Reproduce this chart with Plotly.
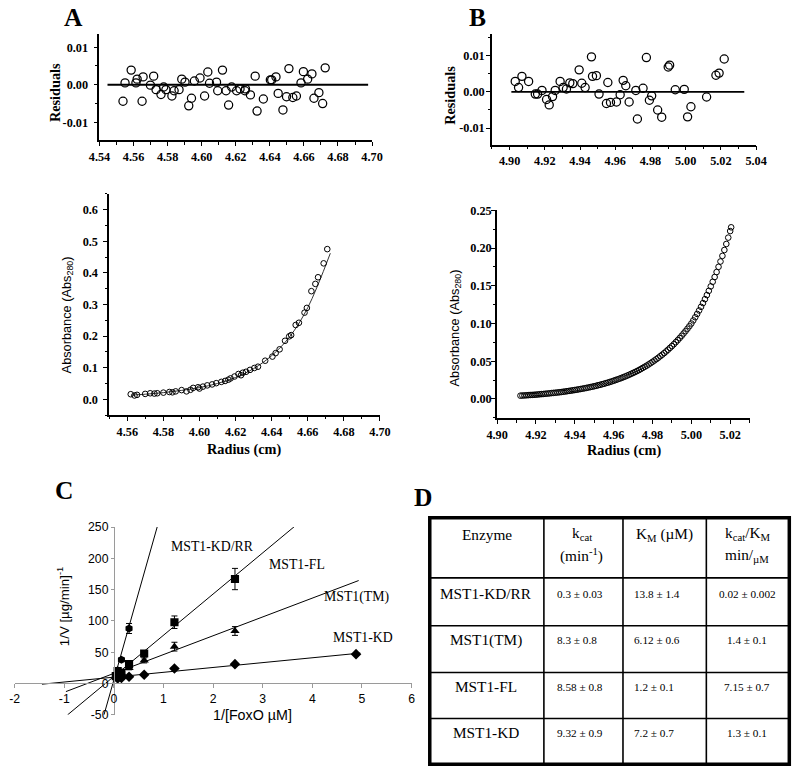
import plotly.graph_objects as go

# Figure fills the window (body margin removed by post_script).  The returned
# photograph shows the page as  8 + 0.98 * page_px, so reference pixel targets
# are mapped back through that relation.
W, H = 800, 770
PAD = 8
SX, SY = 784 / 800, 754 / 770
def fx(p): return ((p - PAD) / SX) / W
def fy(p): return 1 - ((p - PAD) / SY) / H
def fs(s): return round(s / SX, 2)

SERIF = "Liberation Serif, 'Times New Roman', serif"
SANS = "Liberation Sans, Arial, sans-serif"

# ---------------- Panel A data ----------------
a_res_r = [4.5538, 4.5550, 4.5586, 4.5614, 4.5621, 4.5650, 4.5656, 4.5699, 4.5718, 4.5732,
           4.5761, 4.5777, 4.5790, 4.5825, 4.5838, 4.5867, 4.5883, 4.5902, 4.5924, 4.5940,
           4.5957, 4.5990, 4.6017, 4.6036, 4.6046, 4.6087, 4.6094, 4.6122, 4.6143, 4.6158,
           4.6176, 4.6205, 4.6225, 4.6254, 4.6257, 4.6286, 4.6314, 4.6325, 4.6362, 4.6403,
           4.6411, 4.6436, 4.6449, 4.6477, 4.6498, 4.6512, 4.6535, 4.6556, 4.6583, 4.6597,
           4.6622, 4.6647, 4.6659, 4.6688, 4.6710, 4.6725]
a_res_v = [-0.0044, 0.0005, 0.0039, 0.0005, 0.0015, -0.0044, 0.0021, -0.0001, 0.0023, -0.0013,
           -0.0026, -0.0006, -0.0013, -0.0030, -0.0016, -0.0013, 0.0015, 0.0007, -0.0056, -0.0036,
           0.0010, 0.0018, -0.0030, 0.0034, 0.0004, 0.0007, -0.0016, 0.0039, -0.0016, -0.0054,
           -0.0006, -0.0016, -0.0011, -0.0016, -0.0011, -0.0027, 0.0023, -0.0070, -0.0038, 0.0013,
           0.0013, 0.0021, -0.0023, -0.0067, -0.0032, 0.0043, -0.0034, -0.0030, 0.0005, 0.0035,
           0.0015, 0.0029, -0.0036, -0.0021, -0.0050, 0.0045]
a_zero_r = [4.5447, 4.6977]
a_zero_v = [0.0, 0.0]

a_abs_r = [4.5619, 4.5640, 4.5654, 4.5699, 4.5727, 4.5750, 4.5766, 4.5800, 4.5833, 4.5850,
           4.5868, 4.5901, 4.5928, 4.5950, 4.5965, 4.5992, 4.6000, 4.6019, 4.6043, 4.6070,
           4.6093, 4.6121, 4.6142, 4.6160, 4.6172, 4.6194, 4.6216, 4.6230, 4.6240, 4.6258,
           4.6280, 4.6304, 4.6324, 4.6364, 4.6404, 4.6422, 4.6444, 4.6474, 4.6497, 4.6508,
           4.6533, 4.6551, 4.6582, 4.6595, 4.6620, 4.6642, 4.6657, 4.6688, 4.6708]
a_abs_v = [0.016, 0.012, 0.014, 0.017, 0.019, 0.018, 0.019, 0.021, 0.023, 0.022,
           0.025, 0.029, 0.025, 0.030, 0.036, 0.038, 0.034, 0.040, 0.044, 0.047,
           0.051, 0.055, 0.058, 0.062, 0.066, 0.072, 0.080, 0.076, 0.084, 0.087,
           0.093, 0.099, 0.103, 0.122, 0.135, 0.146, 0.158, 0.185, 0.199, 0.203,
           0.235, 0.242, 0.274, 0.289, 0.342, 0.365, 0.386, 0.430, 0.475]
a_fit_r = [4.562, 4.570, 4.580, 4.590, 4.600, 4.610, 4.620, 4.630, 4.640, 4.650, 4.660, 4.6725]
a_fit_v = [0.013, 0.016, 0.021, 0.028, 0.037, 0.050, 0.069, 0.097, 0.138, 0.198, 0.290, 0.462]

# ---------------- Panel B data ----------------
b_res_r = [4.9032, 4.9051, 4.9070, 4.9108, 4.9146, 4.9159, 4.9184, 4.9210, 4.9225, 4.9244,
           4.9259, 4.9287, 4.9304, 4.9323, 4.9342, 4.9359, 4.9395, 4.9410, 4.9429, 4.9465,
           4.9471, 4.9493, 4.9508, 4.9550, 4.9558, 4.9573, 4.9607, 4.9628, 4.9645, 4.9660,
           4.9679, 4.9717, 4.9726, 4.9758, 4.9777, 4.9794, 4.9807, 4.9841, 4.9864, 4.9901,
           4.9909, 4.9941, 4.9992, 5.0011, 5.0030, 5.0119, 5.0172, 5.0190, 5.0219]
b_res_v = [0.0029, 0.0012, 0.0043, 0.0029, -0.0006, -0.0006, 0.0004, -0.0021, -0.0036, -0.0013,
           0.0004, 0.0029, 0.0012, 0.0008, 0.0025, 0.0023, 0.0061, 0.0024, 0.0012, 0.0097,
           0.0043, 0.0045, -0.0006, -0.0032, 0.0026, -0.0029, -0.0028, -0.0008, 0.0032, 0.0017,
           -0.0028, 0.0004, -0.0075, 0.0010, 0.0095, -0.0023, -0.0011, -0.0050, -0.0070, 0.0069,
           0.0074, 0.0006, 0.0007, -0.0069, -0.0041, -0.0014, 0.0046, 0.0052, 0.0091]
b_zero_r = [4.901, 5.0333]
b_zero_v = [0.0, 0.0]

b_abs_r = [4.912, 4.913, 4.914, 4.915, 4.916, 4.917, 4.918, 4.919, 4.920, 4.921,
           4.922, 4.923, 4.924, 4.925, 4.926, 4.927, 4.928, 4.929, 4.930, 4.931,
           4.932, 4.933, 4.934, 4.935, 4.936, 4.937, 4.938, 4.939, 4.940, 4.941,
           4.942, 4.943, 4.944, 4.945, 4.946, 4.947, 4.948, 4.949, 4.950, 4.951,
           4.952, 4.953, 4.954, 4.955, 4.956, 4.957, 4.958, 4.959, 4.960, 4.961,
           4.962, 4.963, 4.964, 4.965, 4.966, 4.967, 4.968, 4.969, 4.970, 4.971,
           4.972, 4.973, 4.974, 4.975, 4.976, 4.977, 4.978, 4.979, 4.980, 4.981,
           4.982, 4.983, 4.984, 4.985, 4.986, 4.987, 4.988, 4.989, 4.990, 4.991,
           4.992, 4.993, 4.994, 4.995, 4.996, 4.997, 4.998, 4.999, 5.000, 5.001,
           5.002, 5.003, 5.004, 5.005, 5.006, 5.007, 5.008, 5.009, 5.010, 5.011,
           5.012, 5.013, 5.014, 5.015, 5.016, 5.017, 5.018, 5.019, 5.020, 5.0205]
b_abs_v = [0.0044, 0.0046, 0.0047, 0.0049, 0.0051, 0.0053, 0.0054, 0.0056, 0.0058, 0.0060,
           0.0063, 0.0065, 0.0067, 0.0070, 0.0072, 0.0075, 0.0078, 0.0081, 0.0083, 0.0086,
           0.0089, 0.0092, 0.0096, 0.0099, 0.0103, 0.0107, 0.0111, 0.0115, 0.0119, 0.0123,
           0.0128, 0.0132, 0.0137, 0.0142, 0.0147, 0.0152, 0.0158, 0.0163, 0.0169, 0.0175,
           0.0182, 0.0188, 0.0195, 0.0202, 0.0210, 0.0217, 0.0225, 0.0233, 0.0242, 0.0251,
           0.0260, 0.0269, 0.0279, 0.0289, 0.0299, 0.0310, 0.0321, 0.0333, 0.0345, 0.0357,
           0.0370, 0.0383, 0.0397, 0.0412, 0.0427, 0.0442, 0.0458, 0.0475, 0.0492, 0.0510,
           0.0528, 0.0547, 0.0567, 0.0587, 0.0608, 0.0630, 0.0653, 0.0677, 0.0701, 0.0726,
           0.0753, 0.0780, 0.0808, 0.0837, 0.0868, 0.0899, 0.0931, 0.0965, 0.1000, 0.1041,
           0.1083, 0.1127, 0.1173, 0.1221, 0.1271, 0.1323, 0.1377, 0.1433, 0.1492, 0.1553,
           0.1616, 0.1682, 0.1751, 0.1822, 0.1896, 0.1974, 0.2054, 0.2138, 0.2225, 0.2275]

# ---------------- Panel C data ----------------
kdrr_x = [0.038, 0.076, 0.152, 0.305]
kdrr_y = [10, 21, 38, 88]
kdrr_e = [2, 3, 3, 8]
fl_x = [0.038, 0.076, 0.152, 0.305, 0.61, 1.22, 2.44]
fl_y = [12, 20, 17, 31, 48, 98, 167]
fl_e = [2, 2, 3, 3, 3, 10, 17]
tm_x = [0.076, 0.152, 0.305, 0.61, 1.22, 2.44]
tm_y = [13, 17, 25, 37, 59, 84]
tm_e = [2, 2, 3, 4, 7, 7]
kd_x = [0.076, 0.152, 0.305, 0.61, 1.22, 2.44, 4.88]
kd_y = [8, 9, 11, 14, 24, 31, 47]
kd_e = [1, 1, 1, 2, 2, 2, 2]

kdrr_line_x = [-0.2, 0.886]
kdrr_line_y = [-50, 254]
fl_line_x = [-0.934, 3.666]
fl_line_y = [-50, 252.7]
tm_line_x = [-0.967, 4.933]
tm_line_y = [-12.8, 164.6]
kd_line_x = [-1.45, 4.966]
kd_line_y = [-1, 48.7]

c_labels = ["MST1-KD/RR", "MST1-FL", "MST1(TM)", "MST1-KD"]
c_xticks = [-2, -1, 0, 1, 2, 3, 4, 5, 6]
c_yticks = [-50, 0, 50, 100, 150, 200, 250]

# ---------------- Panel D data ----------------
enzymes = ["MST1-KD/RR", "MST1(TM)", "MST1-FL", "MST1-KD"]
kcat = ["0.3 ± 0.03", "8.3 ± 0.8", "8.58 ± 0.8", "9.32 ± 0.9"]
km = ["13.8 ± 1.4", "6.12 ± 0.6", "1.2 ± 0.1", "7.2 ± 0.7"]
kcat_km = ["0.02 ± 0.002", "1.4 ± 0.1", "7.15 ± 0.7", "1.3 ± 0.1"]

fig = go.Figure()

def add(tr):
    fig.add_trace(tr)

open_big = dict(symbol='circle-open', size=fs(8), color='black', line=dict(width=1.25, color='black'))
open_small = dict(symbol='circle-open', size=fs(5.5), color='black', line=dict(width=1, color='black'))

add(go.Scatter(x=a_zero_r, y=a_zero_v, mode='lines', line=dict(color='black', width=1.8), xaxis='x', yaxis='y'))
add(go.Scatter(x=a_res_r, y=a_res_v, mode='markers', marker=open_big, xaxis='x', yaxis='y'))
add(go.Scatter(x=a_fit_r, y=a_fit_v, mode='lines', line=dict(color='#333', width=1, shape='spline'), xaxis='x2', yaxis='y2'))
add(go.Scatter(x=a_abs_r, y=a_abs_v, mode='markers', marker=open_small, xaxis='x2', yaxis='y2'))
add(go.Scatter(x=b_zero_r, y=b_zero_v, mode='lines', line=dict(color='black', width=1.8), xaxis='x3', yaxis='y3'))
add(go.Scatter(x=b_res_r, y=b_res_v, mode='markers', marker=open_big, xaxis='x3', yaxis='y3'))
add(go.Scatter(x=b_abs_r, y=b_abs_v, mode='markers', marker=open_small, xaxis='x4', yaxis='y4'))

# Panel C lines
for lx, ly in [(kdrr_line_x, kdrr_line_y), (fl_line_x, fl_line_y), (tm_line_x, tm_line_y), (kd_line_x, kd_line_y)]:
    add(go.Scatter(x=lx, y=ly, mode='lines', line=dict(color='black', width=1), xaxis='x5', yaxis='y5'))
for xs, ys, es, sym in [(kdrr_x, kdrr_y, kdrr_e, 'hexagon'), (fl_x, fl_y, fl_e, 'square'),
                        (tm_x, tm_y, tm_e, 'triangle-up'), (kd_x, kd_y, kd_e, 'diamond')]:
    add(go.Scatter(x=xs, y=ys, mode='markers',
                   marker=dict(symbol=sym, size=fs(8), color='black'),
                   error_y=dict(type='data', array=es, thickness=1, width=3, color='black'),
                   xaxis='x5', yaxis='y5'))

fig.update_traces(showlegend=False, hoverinfo='skip')

tickfont_b = dict(family=SERIF, size=fs(12), color='black', weight='bold')

def ax(domain, rng, tickvals, ticktext, minor_dtick, minor_tick0, anchor, standoff=0):
    return dict(domain=domain, range=rng, anchor=anchor, showline=True, linecolor='black',
                linewidth=1.6, ticks='outside', ticklen=4, tickwidth=1.3, tickcolor='black',
                tickvals=tickvals, ticktext=ticktext, tickfont=tickfont_b,
                ticklabelstandoff=standoff,
                showgrid=False, zeroline=False, fixedrange=True,
                minor=dict(dtick=minor_dtick, tick0=minor_tick0, ticks='outside', ticklen=2.5,
                           tickwidth=1, tickcolor='black', showgrid=False))

res_ticks = [-0.01, 0.0, 0.01]
res_text = ['-0.01', '0.00', '0.01']

layout = dict(
    width=W, height=H, margin=dict(l=0, r=0, t=0, b=0),
    paper_bgcolor='white', plot_bgcolor='white', showlegend=False,
    xaxis=ax([fx(97), fx(372)], [4.5399, 4.7001],
             [4.54, 4.56, 4.58, 4.60, 4.62, 4.64, 4.66, 4.68, 4.70],
             ['4.54', '4.56', '4.58', '4.60', '4.62', '4.64', '4.66', '4.68', '4.70'], 0.01, 4.54, 'y'),
    yaxis=ax([fy(141), fy(35)], [-0.0148, 0.0135], res_ticks, res_text, 0.005, 0, 'x', 3),
    xaxis2=ax([fx(107), fx(380)], [4.55, 4.7001],
              [4.56, 4.58, 4.60, 4.62, 4.64, 4.66, 4.68, 4.70],
              ['4.56', '4.58', '4.60', '4.62', '4.64', '4.66', '4.68', '4.70'], 0.01, 4.55, 'y2'),
    yaxis2=ax([fy(415), fy(194.3)], [-0.05, 0.65],
              [0.0, 0.1, 0.2, 0.3, 0.4, 0.5, 0.6],
              ['0.0', '0.1', '0.2', '0.3', '0.4', '0.5', '0.6'], 0.05, 0, 'x2', 3),
    xaxis3=ax([fx(492.7), fx(759)], [4.89, 5.0401],
              [4.90, 4.92, 4.94, 4.96, 4.98, 5.00, 5.02, 5.04],
              ['4.90', '4.92', '4.94', '4.96', '4.98', '5.00', '5.02', '5.04'], 0.01, 4.89, 'y3'),
    yaxis3=ax([fy(145.3), fy(35)], [-0.0146, 0.016], res_ticks, res_text, 0.005, 0, 'x3', -1),
    xaxis4=ax([fx(497.7), fx(752.3)], [4.8999, 5.03],
              [4.90, 4.92, 4.94, 4.96, 4.98, 5.00, 5.02],
              ['4.90', '4.92', '4.94', '4.96', '4.98', '5.00', '5.02'], 0.01, 4.90, 'y4'),
    yaxis4=ax([fy(418.3), fy(210.7)], [-0.0257, 0.2501],
              [0.0, 0.05, 0.10, 0.15, 0.20, 0.25],
              ['0.00', '0.05', '0.10', '0.15', '0.20', '0.25'], 0.025, 0, 'x4', -3),
    xaxis5=dict(domain=[fx(11.7), fx(411.7)], range=[-2, 6], anchor='free', position=fy(682.7),
                showline=True, linecolor='#9a9a9a', linewidth=1, ticks='outside', ticklen=4,
                tickcolor='#9a9a9a', tickvals=c_xticks, ticktext=[str(v) for v in c_xticks],
                tickfont=dict(family=SANS, size=fs(12), color='black'), showgrid=False,
                zeroline=False, fixedrange=True),
    yaxis5=dict(domain=[fy(714), fy(526.7)], range=[-50, 250], anchor='free', position=fx(111.7),
                showline=True, linecolor='#9a9a9a', linewidth=1, ticks='outside', ticklen=3,
                tickcolor='#9a9a9a', tickvals=c_yticks, ticktext=[str(v) for v in c_yticks],
                tickfont=dict(family=SANS, size=fs(12), color='black'), showgrid=False,
                zeroline=False, fixedrange=True),
)
fig.update_layout(**layout)

ann = []
def text(x, y, s, size, family=SERIF, bold=False, angle=0, xanchor='center'):
    ann.append(dict(x=fx(x), y=fy(y), xref='paper', yref='paper', text=s, showarrow=False,
                    textangle=angle, xanchor=xanchor, yanchor='middle',
                    font=dict(family=family, size=fs(size), color='black',
                              weight='bold' if bold else 'normal')))

# panel letters
text(71, 18.5, "A", 25, bold=True)
text(478, 18.5, "B", 25, bold=True)
text(61, 490, "C", 25, bold=True)
text(423, 497, "D", 25, bold=True)

# axis titles A/B
text(51.7, 93.5, "Residuals", 14, bold=True, angle=-90)
text(451, 96, "Residuals", 14, bold=True, angle=-90)
text(65, 315, "Absorbance (Abs<sub>280</sub>)", 12.5, family=SANS, angle=-90)
text(456, 328, "Absorbance (Abs<sub>280</sub>)", 12.5, family=SANS, angle=-90)
text(243, 449.3, "Radius (cm)", 14, bold=True)
text(625.5, 450, "Radius (cm)", 14, bold=True)

# panel C titles & labels
text(61, 606, "1/V [µg/min]<sup>-1</sup>", 13, family=SANS, angle=-90)
text(251, 714, "1/[FoxO µM]", 14, family=SANS)
c_label_pos = [(211, 545.7), (296.7, 564), (356, 596), (362.7, 636.7)]
for lab, (x, y) in zip(c_labels, c_label_pos):
    text(x, y, lab, 13.5)

# panel D table
shapes = []
T_L, T_R, T_T, T_B = 430, 792.3, 517.3, 763.3
col_x = [545, 624.7, 708.7]
row_y = [577.3, 625, 671.7, 717.7]
shapes.append(dict(type='rect', xref='paper', yref='paper', x0=fx(T_L), x1=fx(T_R), y0=fy(T_B), y1=fy(T_T),
                   line=dict(color='black', width=3.5)))
for cx in col_x:
    shapes.append(dict(type='line', xref='paper', yref='paper', x0=fx(cx), x1=fx(cx), y0=fy(T_B), y1=fy(T_T),
                       line=dict(color='black', width=1.6)))
for ry in row_y:
    shapes.append(dict(type='line', xref='paper', yref='paper', x0=fx(T_L), x1=fx(T_R), y0=fy(ry), y1=fy(ry),
                       line=dict(color='black', width=1.8 if ry == row_y[0] else 1.5)))

text(488, 534, "Enzyme", 15)
text(583, 533, "k<sub>cat</sub>", 15)
text(583, 555, "(min<sup>-1</sup>)", 15)
text(667, 534, "K<sub>M</sub> (µM)", 15)
text(750, 533, "k<sub>cat</sub>/K<sub>M</sub>", 15)
text(750, 555, "min/<sub>µM</sub>", 15)

row_centers = [593.3, 639.3, 686, 731.7]
for i, yc in enumerate(row_centers):
    text(487, yc, enzymes[i], 15)
    text(556, yc, kcat[i], 11, xanchor='left')
    text(634, yc, km[i], 11, xanchor='left')
    text(750, yc, kcat_km[i], 11)

fig.update_layout(annotations=ann, shapes=shapes)
fig.write_html("out.html", config={'displayModeBar': False},
               post_script="document.body.style.margin='0';document.body.style.padding='0';"
                           "document.body.style.overflow='hidden';")
